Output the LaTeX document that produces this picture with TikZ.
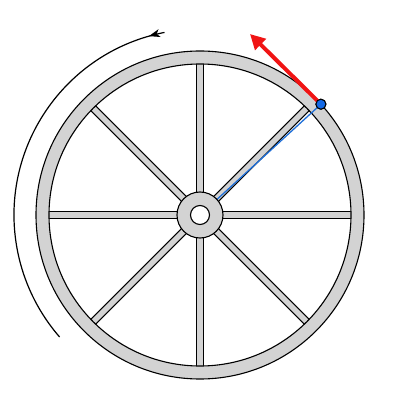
\documentclass[tikz,border=0pt]{standalone}
\usetikzlibrary{arrows.meta,decorations.markings,calc}
\definecolor{rimgray}{RGB}{211,211,211}
\definecolor{bline}{RGB}{30,110,215}
\definecolor{bdot}{RGB}{20,105,230}
\definecolor{rarrow}{RGB}{240,20,20}
\begin{document}
\begin{tikzpicture}[x=1pt,y=1pt,
  partfill/.style={fill=rimgray,draw=black,line width=1.1pt},
  radiusline/.style={draw=bline,line width=1.3pt},
  velarrow/.style={draw=rarrow,line width=4pt,-{Triangle[length=15pt,width=15pt]}},
  rotarc/.style={draw=black,line width=1.2pt,
    postaction={decorate,decoration={markings,mark=at position 16pt with {\arrow{Stealth[length=11pt,width=8pt,inset=3pt]}}}}},
  dotnode/.style={circle,fill=bdot,draw=black,line width=1pt,inner sep=0pt,minimum size=10pt}]
\useasboundingbox (0,0) rectangle (400,400);
\coordinate (C) at (200,185);
% spokes
\begin{scope}[shift={(C)}]
\foreach \a in {0,45,...,315}{
  \draw[partfill,rotate=\a] (0,-3.5) rectangle (152,3.5);
}
\end{scope}
% rim
\path[partfill,even odd rule] (C) circle (164) (C) circle (151);
% radius line
\node[dotnode] (P) at ($(C)+(42.5:164)$) {};
\draw[radiusline] (C) -- (P.center);
% hub
\draw[partfill] (C) circle (23);
\draw[fill=white,draw=black,line width=1.1pt] (C) circle (9.5);
% velocity arrow
\coordinate (T) at (250,366);
\draw[velarrow] (P.center) -- (T);
\node[dotnode] (P2) at (P) {};
% rotation arc
\coordinate (A) at ($(C)+(101:186)$);
\draw[rotarc] (A) arc[start angle=101,end angle=221,radius=186];
\end{tikzpicture}
\end{document}
